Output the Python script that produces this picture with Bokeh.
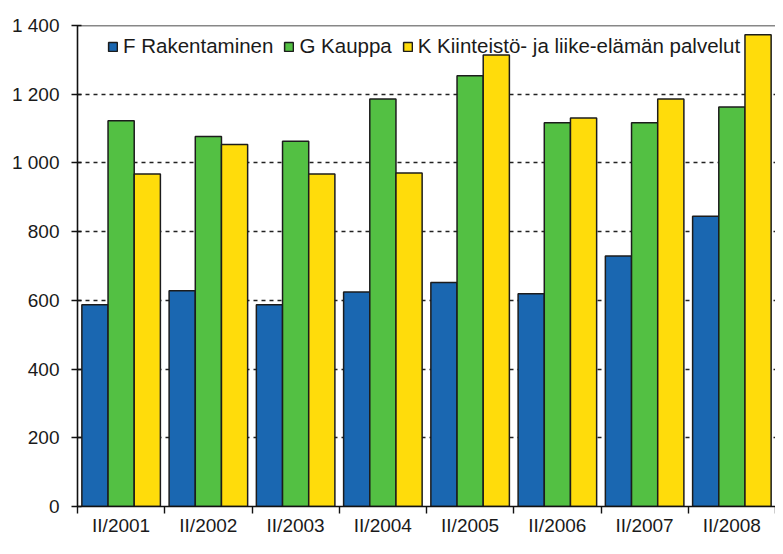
from bokeh.plotting import figure
from bokeh.models import ColumnDataSource, FixedTicker, Range1d, Span, Legend, LegendItem
from bokeh.transform import dodge
from bokeh.embed import file_html
from bokeh.resources import INLINE

categories = ["II/2001", "II/2002", "II/2003", "II/2004", "II/2005", "II/2006", "II/2007", "II/2008"]
rakentaminen = [587, 628, 587, 624, 652, 619, 729, 845]
kauppa = [1123, 1077, 1063, 1186, 1254, 1117, 1117, 1163]
kiinteisto = [968, 1054, 968, 971, 1314, 1131, 1186, 1373]
series_names = ["F Rakentaminen", "G Kauppa", "K Kiinteistö- ja liike-elämän palvelut"]
colors = ["#1A67B1", "#53C043", "#FFDC0B"]
y_ticks = [0, 200, 400, 600, 800, 1000, 1200, 1400]
y_labels = ["0", "200", "400", "600", "800", "1 000", "1 200", "1 400"]

FONT = "Liberation Sans"
n = len(categories)
centers = [i + 0.5 for i in range(n)]

source = ColumnDataSource(dict(x=centers, f=rakentaminen, g=kauppa, k=kiinteisto))

p = figure(width=775, height=538, output_backend="svg", toolbar_location=None,
           x_range=Range1d(0, n), y_range=Range1d(0, 1400),
           min_border_left=77, min_border_right=0, min_border_top=25, min_border_bottom=20)
p.outline_line_color = None
p.background_fill_color = "white"

p.xgrid.visible = False
p.ygrid.ticker = FixedTicker(ticks=y_ticks[1:-1])
p.ygrid.grid_line_color = "#222222"
p.ygrid.grid_line_dash = "4 4"
p.ygrid.grid_line_width = 1.3

bar_w = 0.3
renderers = []
for j, (field, col) in enumerate(zip(["f", "g", "k"], colors)):
    r = p.vbar(x=dodge("x", (j - 1) * bar_w, range=p.x_range), top=field, bottom=0,
               width=bar_w, source=source, fill_color=col,
               line_color="#1c1c1c", line_width=1.5)
    renderers.append(r)

p.add_layout(Span(location=1400, dimension="width", line_color="#111111", line_width=1.6))

# y axis
p.yaxis.ticker = FixedTicker(ticks=y_ticks)
p.yaxis.major_label_overrides = {t: l for t, l in zip(y_ticks, y_labels)}
p.yaxis.minor_tick_line_color = None
p.yaxis.major_tick_in = 4
p.yaxis.major_tick_out = 6
p.yaxis.major_label_standoff = 12
p.yaxis.axis_line_width = 1.6
p.yaxis.axis_line_color = "#111111"
p.yaxis.major_tick_line_color = "#111111"
p.yaxis.major_tick_line_width = 1.4
p.yaxis.major_label_text_font = FONT
p.yaxis.major_label_text_font_size = "19px"
p.yaxis.major_label_text_color = "#1a1a1a"

# x axis
p.xaxis.ticker = FixedTicker(ticks=centers, minor_ticks=list(range(n + 1)))
p.xaxis.major_label_overrides = {c: l for c, l in zip(centers, categories)}
p.xaxis.major_tick_in = 0
p.xaxis.major_tick_out = 0
p.xaxis.minor_tick_in = 0
p.xaxis.minor_tick_out = 7
p.xaxis.minor_tick_line_color = "#111111"
p.xaxis.minor_tick_line_width = 1.4
p.xaxis.axis_line_width = 1.6
p.xaxis.axis_line_color = "#111111"
p.xaxis.major_label_standoff = 1
p.xaxis.major_label_text_font = FONT
p.xaxis.major_label_text_font_size = "19px"
p.xaxis.major_label_text_color = "#1a1a1a"

legend = Legend(items=[LegendItem(label=nm, renderers=[r]) for nm, r in zip(series_names, renderers)],
                orientation="horizontal", location=(30, 448))
legend.background_fill_alpha = 0
legend.border_line_color = None
legend.padding = 0
legend.margin = 0
legend.spacing = 10
legend.glyph_width = 11
legend.glyph_height = 11
legend.label_standoff = 5
legend.label_text_font = FONT
legend.label_text_font_size = "20.5px"
legend.label_text_color = "#1a1a1a"
p.add_layout(legend)

open("out.html", "w").write(file_html(p, INLINE))
